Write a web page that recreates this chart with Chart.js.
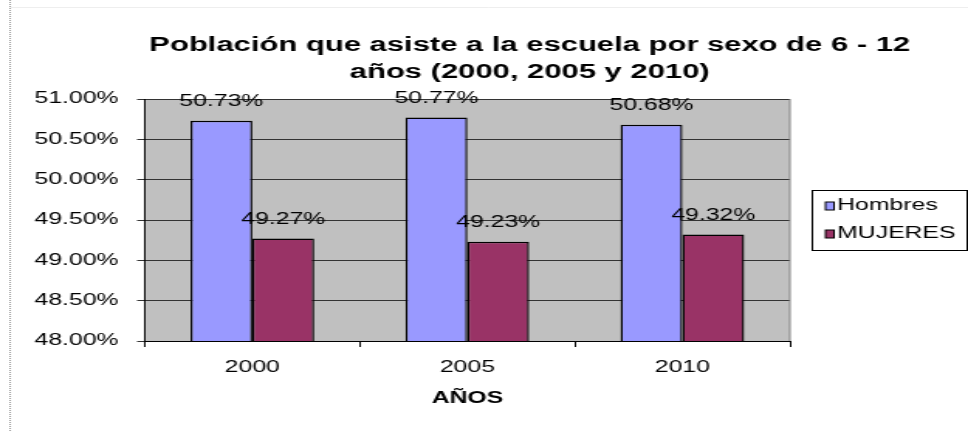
<!DOCTYPE html>
<html>
<head>
<meta charset="utf-8">
<script src="https://cdn.jsdelivr.net/npm/chart.js@4.4.1/dist/chart.umd.min.js"></script>
<style>
  html, body { margin: 0; padding: 0; background: #fff; overflow: hidden; }
  #wrap { width: 625px; height: 431px; transform: scaleX(1.5488); transform-origin: 0 0; }
</style>
</head>
<body>
<div id="wrap"><canvas id="chart" width="625" height="431"></canvas></div>
<script>
// datos
const anios = ['2000', '2005', '2010'];
const hombres = [50.73, 50.77, 50.68];
const mujeres = [49.27, 49.23, 49.32];
const tituloLineas = ['Población que asiste a la escuela por sexo de 6 - 12', 'años (2000, 2005 y 2010)'];

const FONT = "'Liberation Sans', Arial, sans-serif";
Chart.defaults.font.family = FONT;
Chart.defaults.color = '#000';

// fondo gris del area, titulo, marco
const fondoPlugin = {
  id: 'fondo',
  beforeDraw(chart) {
    const { ctx, chartArea: a } = chart;
    ctx.save();
    ctx.fillStyle = '#C0C0C0';
    ctx.fillRect(a.left, a.top, a.right - a.left, a.bottom - a.top);
    // marco de la pagina
    ctx.strokeStyle = '#999';
    ctx.setLineDash([1, 1]);
    ctx.beginPath();
    ctx.moveTo(6.5, 0);
    ctx.lineTo(6.5, chart.height);
    ctx.stroke();
    ctx.setLineDash([]);
    ctx.strokeStyle = '#eee';
    ctx.beginPath();
    ctx.moveTo(6.5, 7.5);
    ctx.lineTo(chart.width, 7.5);
    ctx.stroke();
    // titulo
    ctx.fillStyle = '#000';
    ctx.font = 'bold 20px ' + FONT;
    ctx.textAlign = 'center';
    ctx.textBaseline = 'middle';
    ctx.fillText(tituloLineas[0], 342, 45);
    ctx.fillText(tituloLineas[1], 342, 72);
    ctx.restore();
  },
  beforeDatasetsDraw(chart) {
    const { ctx, chartArea: a } = chart;
    ctx.save();
    ctx.strokeStyle = '#808080';
    ctx.lineWidth = 1;
    ctx.beginPath();
    ctx.moveTo(a.right, a.top);
    ctx.lineTo(a.right, a.bottom);
    ctx.stroke();
    ctx.restore();
  }
};

// etiquetas de valores y leyenda
const etiquetasPlugin = {
  id: 'etiquetas',
  afterDatasetsDraw(chart) {
    const { ctx } = chart;
    ctx.save();
    ctx.font = '16px ' + FONT;
    ctx.fillStyle = '#000';
    ctx.textAlign = 'center';
    ctx.textBaseline = 'middle';
    chart.data.datasets.forEach((ds, i) => {
      chart.getDatasetMeta(i).data.forEach((bar, j) => {
        ctx.fillText(ds.data[j].toFixed(2) + '%', bar.x, bar.y - 19);
      });
    });

    // leyenda
    const lx = 524, ly = 190, lw = 100, lh = 60;
    ctx.fillStyle = '#fff';
    ctx.fillRect(lx, ly, lw, lh);
    ctx.strokeStyle = '#000';
    ctx.lineWidth = 1;
    ctx.strokeRect(lx + 0.5, ly + 0.5, lw, lh);
    ctx.textAlign = 'left';
    chart.data.datasets.forEach((ds, i) => {
      const y = 206 + i * 28;
      ctx.fillStyle = ds.backgroundColor;
      ctx.fillRect(lx + 9, y - 4, 5.5, 8);
      ctx.strokeRect(lx + 9, y - 4, 5.5, 8);
      ctx.fillStyle = '#000';
      ctx.fillText(ds.label, lx + 16.5, y);
    });
    ctx.restore();
  }
};

new Chart(document.getElementById('chart'), {
  type: 'bar',
  data: {
    labels: anios,
    datasets: [
      { label: 'Hombres', data: hombres, backgroundColor: '#9999FF', borderColor: '#000', borderWidth: 1.4 },
      { label: 'MUJERES', data: mujeres, backgroundColor: '#993366', borderColor: '#000', borderWidth: 1.4 }
    ]
  },
  options: {
    responsive: false,
    animation: false,
    categoryPercentage: 0.575,
    barPercentage: 1,
    layout: { padding: { top: 99, right: 115, left: 0, bottom: 0 } },
    plugins: {
      legend: { display: false },
      title: { display: false },
      tooltip: { enabled: false }
    },
    scales: {
      x: {
        afterFit(scale) { scale.height = 90; },
        grid: { drawOnChartArea: false, drawTicks: true, tickLength: 6, color: '#000', offset: true },
        border: { color: '#000' },
        ticks: { font: { size: 16 }, padding: 11, color: '#000' },
        title: { display: true, text: 'AÑOS', font: { size: 16, weight: 'bold' }, color: '#000', padding: { top: 0, bottom: 23 } }
      },
      y: {
        min: 48,
        max: 51,
        afterFit(scale) { scale.width = 93.5; },
        grid: { color: '#333', tickLength: 5 },
        border: { color: '#000' },
        ticks: {
          stepSize: 0.5,
          font: { size: 16 },
          padding: 12,
          color: '#000',
          callback: v => v.toFixed(2) + '%'
        }
      }
    }
  },
  plugins: [fondoPlugin, etiquetasPlugin]
});
</script>
</body>
</html>
